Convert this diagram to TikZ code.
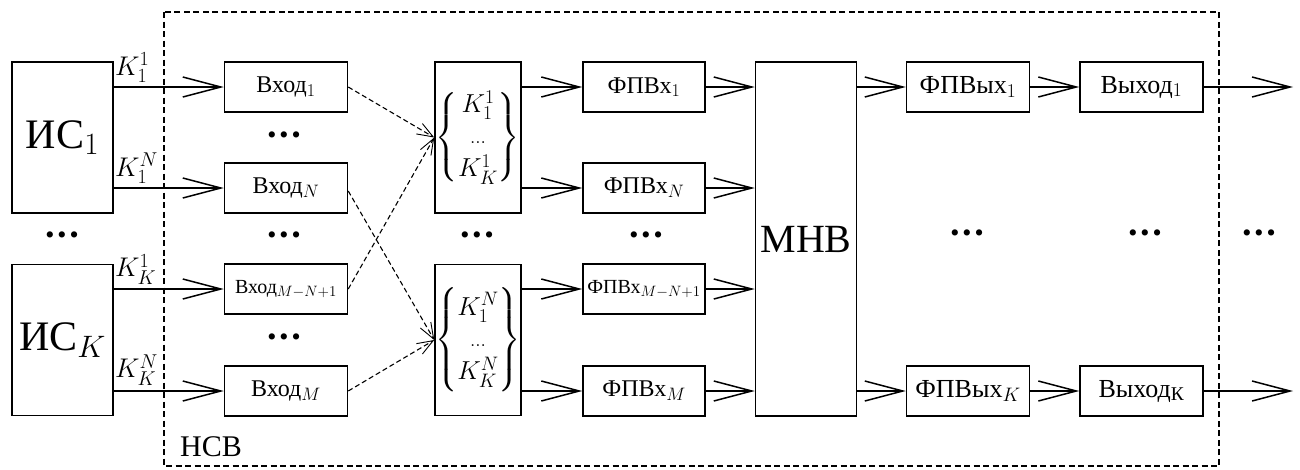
\RequirePackage{fix-cm}
\documentclass[tikz,border=0pt]{standalone}
\usepackage{amsmath}
\usepackage{fontspec}
\setmainfont{Liberation Serif}
\usetikzlibrary{arrows.meta}
\DeclareMathSizes{20}{20}{15}{11}
\DeclareMathSizes{24}{24}{18}{13}
\DeclareMathSizes{26}{26}{19.5}{14}
\DeclareMathSizes{27}{27}{20}{15}
\DeclareMathSizes{42}{42}{31}{22}
\newcommand\fs[1]{\fontsize{#1}{#1}\selectfont}
\newcommand\dotrow{\textbullet\hspace{3pt}\textbullet\hspace{3pt}\textbullet}
\begin{document}
\begin{tikzpicture}[x=1pt,y=-1pt,
  box/.style={draw,line width=1.5pt,inner sep=0pt,align=center},
  arr/.style={line width=1.5pt,-{Straight Barb[length=38pt,width=20pt,line width=1.5pt]}},
  darr/.style={line width=1.1pt,dash pattern=on 5pt off 3pt,-{Straight Barb[length=16pt,width=12pt,line width=0.9pt]}},
  dots/.style={inner sep=0pt,font=\fs{26}},
  klab/.style={inner sep=0pt,anchor=south west,font=\fs{27}},
]
\useasboundingbox (0,0) rectangle (1300,469);

% system boundary
\draw[line width=1.3pt,dash pattern=on 6pt off 3.5pt] (164,12) rectangle (1219,466);
\node[inner sep=0pt,anchor=base west,font=\fs{30}] (nsv) at (180,456) {НСВ};

% sources
\node[box,minimum width=101pt,minimum height=151pt,font=\fs{42}] (is1) at (62.5,137.5) {ИС$_1$};
\node[box,minimum width=101pt,minimum height=151pt,font=\fs{42}] (isk) at (62.5,340) {ИС$_K$};
\node[dots] (d0) at (62,238) {\dotrow};

% inputs
\node[box,minimum width=123pt,minimum height=50pt,font=\fs{24}] (in1) at (286,87) {Вход$_1$};
\node[box,minimum width=123pt,minimum height=50pt,font=\fs{24}] (inN) at (286,188) {Вход$_N$};
\node[box,minimum width=123pt,minimum height=50pt,font=\fs{20}] (inA) at (286,289) {Вход$_{M-N+1}$};
\node[box,minimum width=123pt,minimum height=50pt,font=\fs{24}] (inM) at (286,391) {Вход$_M$};
\node[dots] (d1) at (284,138) {\dotrow};
\node[dots] (d2) at (284,238) {\dotrow};
\node[dots] (d3) at (284,340) {\dotrow};

% channel labels
\node[klab] (k1) at (115,83) {$K_1^1$};
\node[klab] (k2) at (115,184) {$K_1^N$};
\node[klab] (k3) at (115,285) {$K_K^1$};
\node[klab] (k4) at (115,386) {$K_K^N$};

\draw[arr] (is1.east |- in1.west) -- (in1.west);
\draw[arr] (is1.east |- inN.west) -- (inN.west);
\draw[arr] (isk.east |- inA.west) -- (inA.west);
\draw[arr] (isk.east |- inM.west) -- (inM.west);

% channel groups
\node[box,minimum width=86pt,minimum height=151pt,font=\fs{26}] (br1) at (478,137.5)
  {$\left\{\begin{matrix}K_1^1\\[5pt] {\scriptstyle\ldots}\\[3pt] K_K^1\end{matrix}\right\}$};
\node[box,minimum width=86pt,minimum height=151pt,font=\fs{26}] (br2) at (478,340)
  {$\left\{\begin{matrix}K_1^N\\[5pt] {\scriptstyle\ldots}\\[3pt] K_K^N\end{matrix}\right\}$};
\node[dots] (d4) at (477,238) {\dotrow};

\draw[darr] (in1.east) -- (br1.west);
\draw[darr] ([yshift=-3pt]inN.east) -- (br2.west);
\draw[darr] (inA.east) -- (br1.west);
\draw[darr] (inM.east) -- (br2.west);

% input format converters
\node[box,minimum width=122pt,minimum height=50pt,font=\fs{24}] (f1) at (644,87) {ФПВх$_1$};
\node[box,minimum width=122pt,minimum height=50pt,font=\fs{24}] (fN) at (644,188) {ФПВх$_N$};
\node[box,minimum width=122pt,minimum height=50pt,font=\fs{20}] (fA) at (644,289) {ФПВх$_{M-N+1}$};
\node[box,minimum width=122pt,minimum height=50pt,font=\fs{24}] (fM) at (644,391) {ФПВх$_M$};
\node[dots] (d5) at (646,238) {\dotrow};

\draw[arr] (br1.east |- f1.west) -- (f1.west);
\draw[arr] (br1.east |- fN.west) -- (fN.west);
\draw[arr] (br2.east |- fA.west) -- (fA.west);
\draw[arr] (br2.east |- fM.west) -- (fM.west);

% processing module
\node[box,minimum width=101pt,minimum height=354pt,font=\fs{40}] (mnv) at (806,239) {МНВ};

\draw[arr] (f1.east) -- (mnv.west |- f1.east);
\draw[arr] (fN.east) -- (mnv.west |- fN.east);
\draw[arr] (fA.east) -- (mnv.west |- fA.east);
\draw[arr] (fM.east) -- (mnv.west |- fM.east);

% output format converters and outputs
\node[box,minimum width=123pt,minimum height=50pt,font=\fs{26}] (o1) at (968,87) {ФПВых$_1$};
\node[box,minimum width=123pt,minimum height=50pt,font=\fs{26}] (oK) at (968,391) {ФПВых$_K$};
\node[box,minimum width=123pt,minimum height=50pt,font=\fs{26}] (out1) at (1141.5,87) {Выход$_1$};
\node[box,minimum width=123pt,minimum height=50pt,font=\fs{26}] (outK) at (1141.5,391) {Выход$_{\text{К}}$};
\node[dots] (d6) at (967,236) {\dotrow};
\node[dots] (d7) at (1145,236) {\dotrow};
\node[dots] (d8) at (1259,236) {\dotrow};

\coordinate (e1) at (1293,87);
\coordinate (eK) at (1293,391);

\draw[arr] (mnv.east |- o1.west) -- (o1.west);
\draw[arr] (mnv.east |- oK.west) -- (oK.west);
\draw[arr] (o1.east) -- (out1.west);
\draw[arr] (oK.east) -- (outK.west);
\draw[arr] (out1.east) -- (e1);
\draw[arr] (outK.east) -- (eK);
\end{tikzpicture}
\end{document}
